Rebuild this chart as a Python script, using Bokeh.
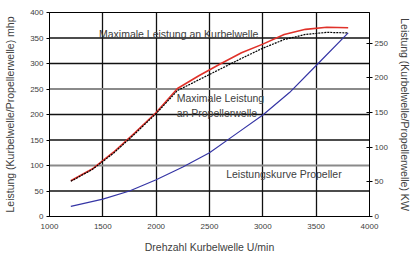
from bokeh.plotting import figure
from bokeh.models import Range1d, LinearAxis, FixedTicker, Span, Label
from bokeh.embed import file_html
from bokeh.resources import INLINE

# Data
rpm_red = [1200, 1400, 1600, 1800, 2000, 2200, 2400, 2600, 2800, 3000, 3200, 3400, 3600, 3800]
hp_crank = [70, 93, 126, 164, 204, 251, 276, 299, 321, 338, 357, 367, 371, 370]
rpm_blk = [1200, 1400, 1600, 1800, 2000, 2200, 2400, 2600, 2800, 3000, 3200, 3400, 3600, 3800]
hp_prop_shaft = [69, 92, 124, 162, 202, 247, 268, 289, 310, 330, 347, 357, 361, 360]
rpm_blue = [1200, 1500, 1750, 2000, 2250, 2500, 2750, 3000, 3250, 3500, 3800]
hp_prop_curve = [20, 34, 50, 72, 97, 125, 162, 199, 243, 296, 360]

x_ticks = [1000, 1500, 2000, 2500, 3000, 3500, 4000]
y_ticks = [0, 50, 100, 150, 200, 250, 300, 350, 400]
kw_ticks = [0, 50, 100, 150, 200, 250]
y_grid_dark = [50, 150, 200, 300, 350]
y_grid_gray = [100, 250]
HP_PER_KW = 1.36

FONT = "Liberation Sans"
TXT = "#404040"

p = figure(width=413, height=255, output_backend="svg", toolbar_location=None,
           x_range=Range1d(1000, 4000), y_range=Range1d(0, 400),
           min_border_left=4, min_border_right=0, min_border_top=12, min_border_bottom=5)
p.extra_y_ranges = {"kw": Range1d(0, 400 / HP_PER_KW)}
p.outline_line_color = "black"
p.outline_line_width = 1
p.background_fill_color = "white"
p.border_fill_color = "white"

# grid
p.xgrid.grid_line_color = "#111111"
p.xgrid.grid_line_width = 1.3
p.ygrid.visible = False
for loc in y_grid_dark:
    p.add_layout(Span(location=loc, dimension="width", line_color="#111111",
                      line_width=1.3, level="underlay"))
for loc in y_grid_gray:
    p.add_layout(Span(location=loc, dimension="width", line_color="#8a8a8a",
                      line_width=2, level="underlay"))

def style_labels(ax):
    ax.major_label_text_font = FONT
    ax.major_label_text_font_size = "8px"
    ax.major_label_text_color = TXT
    ax.axis_label_text_font = FONT
    ax.axis_label_text_font_size = "10.5px"
    ax.axis_label_text_font_style = "normal"
    ax.axis_label_text_color = TXT
    ax.minor_tick_line_color = None

# bottom axis
xa = p.xaxis[0]
style_labels(xa)
xa.axis_line_color = "black"
xa.ticker = FixedTicker(ticks=x_ticks)
xa.major_tick_out = 0
xa.major_tick_in = 0
xa.major_label_standoff = 7
xa.axis_label = "Drehzahl Kurbelwelle U/min"
xa.axis_label_standoff = 9

# left axis (ticks)
ya = p.yaxis[0]
style_labels(ya)
ya.axis_line_color = "black"
ya.ticker = FixedTicker(ticks=y_ticks)
ya.major_tick_out = 3
ya.major_tick_in = 0
ya.major_label_standoff = 3

# left title axis
lt = LinearAxis(ticker=FixedTicker(ticks=[]))
style_labels(lt)
lt.axis_line_color = None
lt.major_tick_line_color = None
lt.axis_label = "Leistung (Kurbelwelle/Propellerwelle) mhp"
lt.axis_label_standoff = 12
p.add_layout(lt, "left")

# right axis (kW)
rax = LinearAxis(y_range_name="kw", ticker=FixedTicker(ticks=kw_ticks))
style_labels(rax)
rax.axis_line_color = "black"
rax.major_tick_in = 3
rax.major_tick_out = 3
rax.major_label_standoff = 2
p.add_layout(rax, "right")

# right title axis
rt = LinearAxis(ticker=FixedTicker(ticks=[]))
style_labels(rt)
rt.axis_line_color = None
rt.major_tick_line_color = None
rt.axis_label = "Leistung (Kurbelwelle/Propellerwelle) KW"
rt.axis_label_standoff = 8
p.add_layout(rt, "right")

# curves
p.line(rpm_red, hp_crank, line_color="#e0322a", line_width=1.6)
p.line(rpm_blk, hp_prop_shaft, line_color="black", line_width=1.2, line_dash="2 1")
p.line(rpm_blue, hp_prop_curve, line_color="#3535a5", line_width=1.2)

# in-plot labels
def lab(x, y, t):
    p.add_layout(Label(x=x, y=y, text=t, text_font=FONT, text_font_size="10.5px",
                       text_color=TXT, text_baseline="middle", text_align="left"))

lab(1464, 358, "Maximale Leistung an Kurbelwelle")
lab(2192, 232, "Maximale Leistung")
lab(2192, 202, "an Propellerwelle")
lab(2656, 83, "Leistungskurve Propeller")

open("out.html", "w").write(file_html(p, INLINE))
